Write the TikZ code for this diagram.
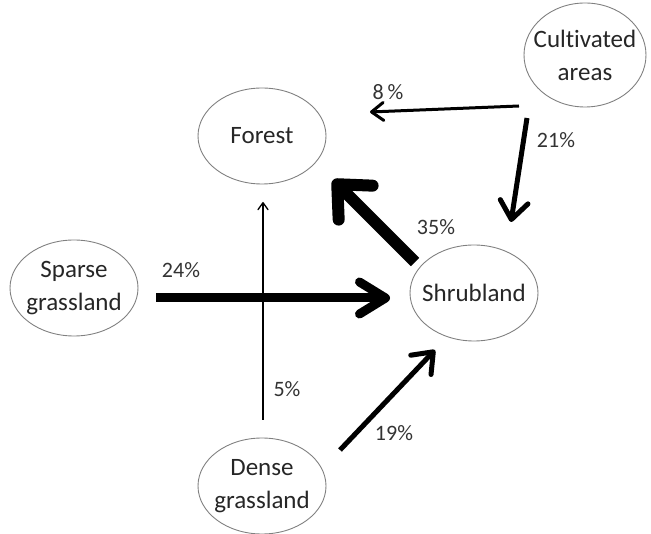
\documentclass[tikz,border=0pt]{standalone}
\usepackage{fontspec}
\setmainfont{Carlito}[Ligatures=NoCommon]
\usetikzlibrary{shapes.geometric,arrows.meta}

\begin{document}
\begin{tikzpicture}[x=1pt,y=-1pt,
  state/.style={ellipse,draw=black!50,line width=0.9pt,inner sep=0pt,minimum width=128pt,minimum height=96pt},
  statetext/.style={text=black!85,font=\fontsize{25}{33}\selectfont,align=center},
  pct/.style={text=black!80,font=\fontsize{22}{26}\selectfont},
  flow/.style={line width=#1}]
\useasboundingbox (0,0) rectangle (651,534);
% land cover classes
\node[state,label={[statetext]center:Forest}] (forest) at (262,136) {};
\node[state,minimum width=122pt,minimum height=104pt,label={[statetext]center:Cultivated\\areas}] (cult) at (585,55) {};
\node[state,label={[statetext]center:Sparse\\grassland}] (sparse) at (74,288) {};
\node[state,label={[statetext]center:Shrubland}] (shrub) at (474,293) {};
\node[state,label={[statetext]center:Dense\\grassland}] (dense) at (262,486) {};
% arrow ends
\coordinate (cultA) at (519,106); \coordinate (forB1) at (370,112);
\coordinate (cultB) at (527,118); \coordinate (shrubB1) at (511,222);
\coordinate (shrubA) at (415,262); \coordinate (forB2) at (333,180);
\coordinate (sparseA) at (156,298); \coordinate (shrubB2) at (390,298);
\coordinate (denseA) at (263,420); \coordinate (forB3) at (263,202);
\coordinate (denseB) at (340,450); \coordinate (shrubB3) at (435,350);
% transitions
\draw[flow=3pt,-{Straight Barb[round,length=12pt,width=18pt]}] (cultA) -- (forB1);
\draw[flow=5pt,-{Straight Barb[round,length=18pt,width=28pt]}] (cultB) -- (shrubB1);
\draw[flow=12pt,-{Straight Barb[round,length=26pt,width=48pt]}] (shrubA) -- (forB2);
\draw[flow=1.3pt,-{Straight Barb[round,length=7pt,width=10pt]}] (denseA) -- (forB3);
\draw[flow=9pt,-{Straight Barb[round,length=26pt,width=32pt]}] (sparseA) -- (shrubB2);
\draw[flow=5pt,-{Straight Barb[round,length=18pt,width=28pt]}] (denseB) -- (shrubB3);
% percentages
\node[pct] (p8) at (388,92) {8\,\%};
\node[pct] (p21) at (556,140) {21\%};
\node[pct] (p35) at (436,227) {35\%};
\node[pct] (p24) at (181,270) {24\%};
\node[pct] (p5) at (287,389) {5\%};
\node[pct] (p19) at (394,433) {19\%};
\end{tikzpicture}
\end{document}
